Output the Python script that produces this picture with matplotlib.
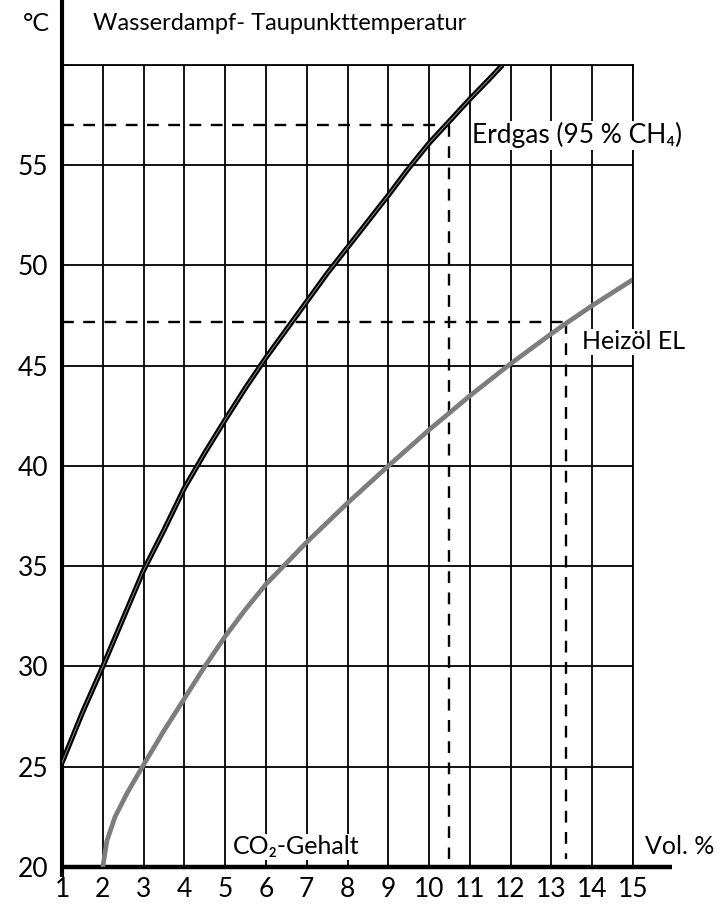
import numpy as np
import matplotlib.pyplot as plt

plt.rcParams['font.family'] = ['Lato', 'DejaVu Sans']

# Werte
x_erdgas = [1, 1.5, 2, 2.5, 3, 3.5, 4, 4.5, 5, 5.5, 6, 6.5, 7, 7.5, 8, 8.5,
            9, 9.5, 10, 10.5, 11, 11.5, 11.8]
y_erdgas = [25.2, 27.7, 30.0, 32.4, 34.8, 36.8, 38.9, 40.65, 42.3, 43.9, 45.4,
            46.8, 48.2, 49.6, 50.9, 52.2, 53.5, 54.85, 56.1, 57.2, 58.3, 59.35, 60.0]

x_heizoel = [2, 2.1, 2.3, 2.6, 3, 3.5, 4, 4.5, 5, 5.5, 6, 7, 8, 9, 10, 11,
             12, 13, 13.35, 14, 15]
y_heizoel = [20, 21.3, 22.5, 23.7, 25.1, 26.8, 28.4, 30.0, 31.5, 32.85, 34.1,
             36.2, 38.15, 40.0, 41.8, 43.5, 45.1, 46.6, 47.1, 48.0, 49.3]

# Ablesebeispiele (CO2-Gehalt, Taupunkt)
erdgas_ref = (10.5, 57.0)
heizoel_ref = (13.35, 47.2)

x_ticks = list(range(1, 16))
y_ticks = [20, 25, 30, 35, 40, 45, 50, 55, 60]
y_ticklabels = ['20', '25', '30', '35', '40', '45', '50', '55', '']

fig = plt.figure(figsize=(7.28, 9.10), dpi=100)
ax = fig.add_axes([0.0852, 0.0473, 0.7843, 0.8813])
ax.set_xlim(1, 15)
ax.set_ylim(20, 60)

ax.set_xticks(x_ticks)
ax.set_yticks(y_ticks)
ax.set_yticklabels(y_ticklabels)
ax.tick_params(length=0, labelsize=19, colors='black')
ax.tick_params(axis='y', pad=10)
ax.tick_params(axis='x', pad=7)
ax.grid(True, color='black', lw=1.3)
ax.set_axisbelow(True)
for s in ['left', 'bottom']:
    ax.spines[s].set_visible(False)
for s in ['top', 'right']:
    ax.spines[s].set_linewidth(1.3)

# dicke Achsen
ax.plot([1, 1], [19.5, 63.5], color='black', lw=3, clip_on=False, solid_capstyle='butt')
ax.plot([1, 15.95], [20, 20], color='black', lw=3.2, clip_on=False, solid_capstyle='butt')

# Hilfslinien
dash = dict(color='black', lw=1.7, dashes=(5, 4), clip_on=False)
ax.plot([1, erdgas_ref[0]], [erdgas_ref[1], erdgas_ref[1]], **dash)
ax.plot([erdgas_ref[0], erdgas_ref[0]], [erdgas_ref[1], 20.4], **dash)
ax.plot([1, heizoel_ref[0]], [heizoel_ref[1], heizoel_ref[1]], **dash)
ax.plot([heizoel_ref[0], heizoel_ref[0]], [heizoel_ref[1], 20.4], **dash)

# Kurven
ax.plot(x_heizoel, y_heizoel, color='#7d7d7d', lw=3.4, solid_capstyle='butt',
        solid_joinstyle='round')
ax.plot(x_erdgas, y_erdgas, color='black', lw=3.8, solid_capstyle='butt',
        solid_joinstyle='round')
ax.plot(x_erdgas, y_erdgas, color='#8a8a8a', lw=0.7, solid_capstyle='butt',
        solid_joinstyle='round')

box = dict(facecolor='white', edgecolor='none', pad=1)
ax.text(11.05, 56.5, 'Erdgas (95 % CH₄)', fontsize=19, va='center', ha='left',
        bbox=box, clip_on=False)
ax.text(13.75, 46.2, 'Heizöl EL', fontsize=18, va='center', ha='left',
        bbox=box, clip_on=False)
ax.text(5.2, 21.0, 'CO₂-Gehalt', fontsize=18, va='center', ha='left', bbox=box)
ax.text(15.3, 21.0, 'Vol. %', fontsize=18, va='center', ha='left', clip_on=False)

fig.text(0.05, 0.974, '°C', fontsize=18, ha='center', va='center')
fig.text(0.128, 0.974, 'Wasserdampf- Taupunkttemperatur', fontsize=17,
         ha='left', va='center')

fig.savefig('out.png', dpi=100)
